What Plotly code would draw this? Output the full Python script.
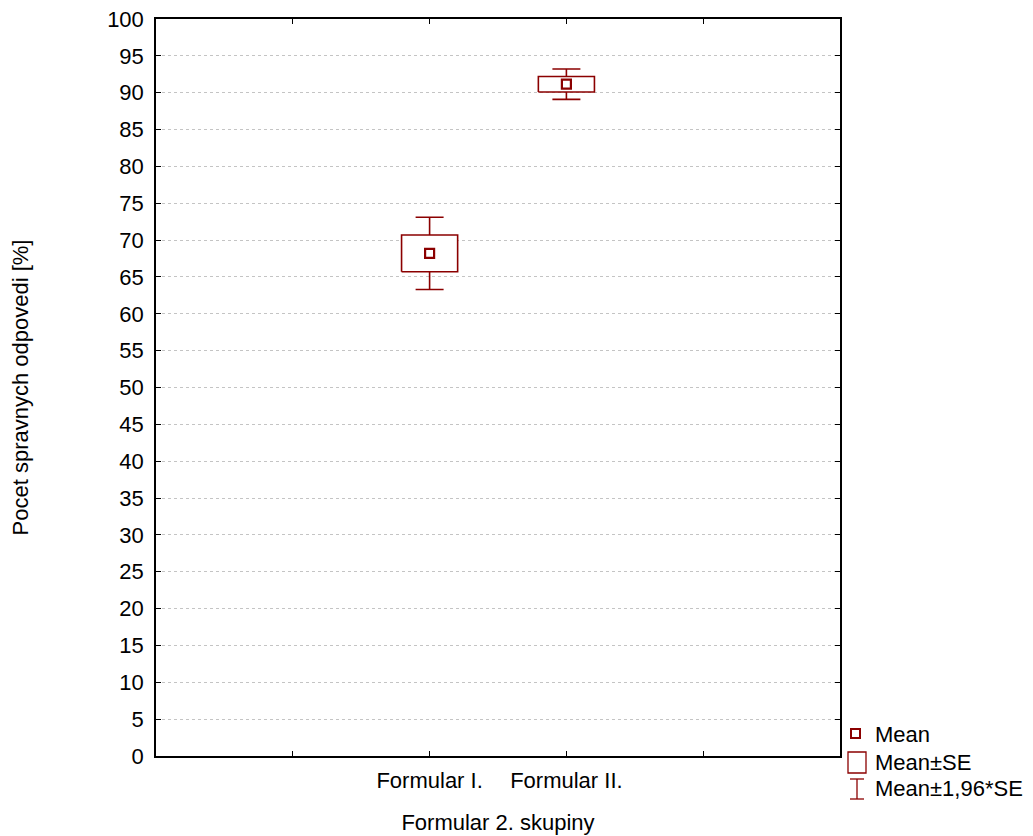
import plotly.graph_objects as go

# ---- data ----
categories = ["Formular I.", "Formular II."]
cat_pos = [1, 2]
means = [68.2, 91.15]
se = [2.5, 1.05]
ci_factor = 1.96

x_tickvals = [0, 1, 2, 3]
x_ticktext = ["", "Formular I.", "Formular II.", ""]
y_tickvals = list(range(0, 101, 5))

RED = "#8B0000"
FONT = "Liberation Sans, Arial, sans-serif"
FS = 22

W, H = 1033, 836
L, R, T, B = 156, 193, 19, 80
pw, ph = W - L - R, H - T - B

fig = go.Figure()

# whiskers (mean ± 1.96*SE)
fig.add_trace(go.Scatter(
    x=cat_pos, y=means, mode="markers",
    marker=dict(size=1, color="rgba(0,0,0,0)"),
    error_y=dict(type="data", array=[ci_factor * s for s in se], symmetric=True,
                 color=RED, thickness=1.6, width=14),
    showlegend=False, hoverinfo="skip"))

# boxes (mean ± SE)
hw = 0.205
for c, m, s in zip(cat_pos, means, se):
    fig.add_trace(go.Scatter(
        x=[c - hw, c + hw, c + hw, c - hw, c - hw],
        y=[m - s, m - s, m + s, m + s, m - s],
        mode="lines", fill="toself", fillcolor="white",
        line=dict(color=RED, width=1.6), showlegend=False, hoverinfo="skip"))

# means
fig.add_trace(go.Scatter(
    x=cat_pos, y=means, mode="markers",
    marker=dict(symbol="square-open", size=9, color=RED, line=dict(width=2.2, color=RED)),
    showlegend=False))

# ---- custom legend (paper coords) ----
def px(x):
    return (x - L) / pw

def py(y):
    return (H - B - y) / ph

shapes = []
shapes.append(dict(type="rect", xref="paper", yref="paper",
                   x0=px(851), x1=px(860), y0=py(738), y1=py(729),
                   line=dict(color=RED, width=2), fillcolor="white"))
shapes.append(dict(type="rect", xref="paper", yref="paper",
                   x0=px(848), x1=px(866), y0=py(773), y1=py(752),
                   line=dict(color=RED, width=1.3), fillcolor="white"))
shapes.append(dict(type="line", xref="paper", yref="paper",
                   x0=px(857), x1=px(857), y0=py(779), y1=py(799),
                   line=dict(color=RED, width=1.3)))
shapes.append(dict(type="line", xref="paper", yref="paper",
                   x0=px(850), x1=px(864), y0=py(779), y1=py(779),
                   line=dict(color=RED, width=1.3)))
shapes.append(dict(type="line", xref="paper", yref="paper",
                   x0=px(850), x1=px(864), y0=py(799), y1=py(799),
                   line=dict(color=RED, width=1.3)))

legend_labels = ["Mean", "Mean±SE", "Mean±1,96*SE"]
legend_y = [734, 762, 789]
annotations = []
for lab, yy in zip(legend_labels, legend_y):
    annotations.append(dict(text=lab, xref="paper", yref="paper",
                            x=px(873), y=py(yy), xanchor="left", yanchor="middle",
                            showarrow=False, font=dict(family=FONT, size=FS, color="black")))

fig.update_layout(
    width=W, height=H,
    margin=dict(l=L, r=R, t=T, b=B, autoexpand=False),
    paper_bgcolor="white", plot_bgcolor="white",
    font=dict(family=FONT, size=FS, color="black"),
    showlegend=False,
    shapes=shapes,
    annotations=annotations,
    xaxis=dict(range=[-1, 4], tickvals=x_tickvals, ticktext=x_ticktext,
               ticks="inside", ticklen=5, tickwidth=1, tickcolor="black",
               showline=True, linecolor="black", linewidth=1.5, mirror="ticks",
               showgrid=False, zeroline=False, automargin=False,
               tickfont=dict(size=FS), ticklabelstandoff=4,
               title=dict(text="Formular 2. skupiny", standoff=22, font=dict(size=FS))),
    yaxis=dict(range=[0, 100], tickvals=y_tickvals,
               ticks="inside", ticklen=5, tickwidth=1, tickcolor="black",
               showline=True, linecolor="black", linewidth=1.5, mirror="ticks",
               showgrid=True, gridcolor="#c4c4c4", griddash="dot", gridwidth=1,
               zeroline=False, automargin=False, tickfont=dict(size=FS),
               ticklabelstandoff=6,
               title=dict(text="Pocet spravnych odpovedi [%]", standoff=72, font=dict(size=FS))),
)

fig.write_html("out.html")
